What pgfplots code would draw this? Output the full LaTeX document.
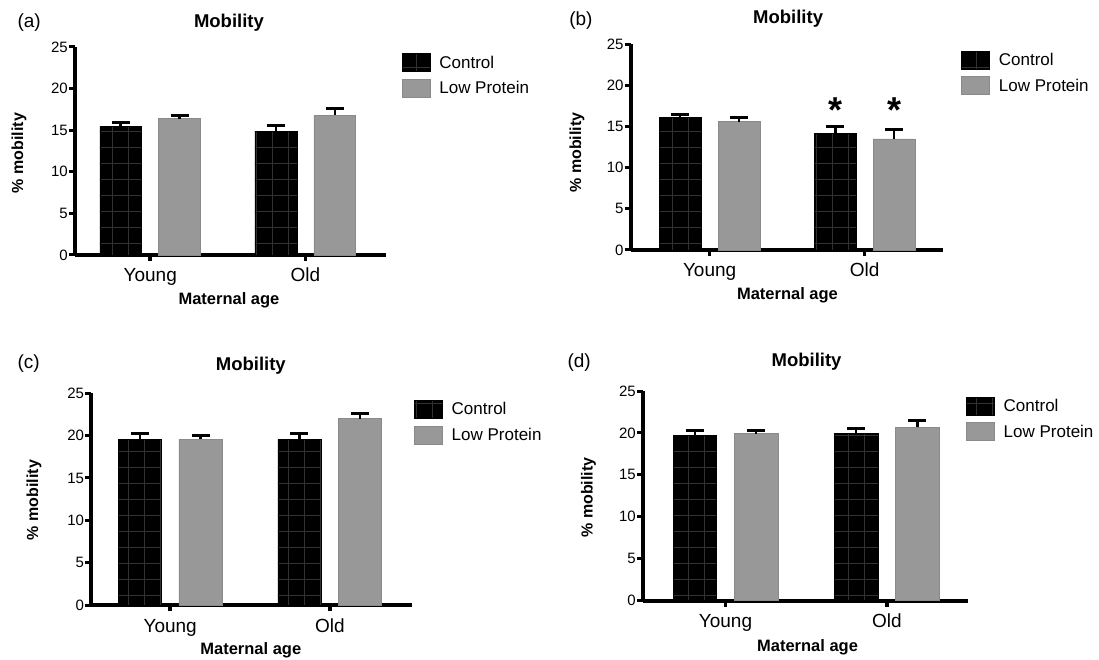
\documentclass[border=0pt]{standalone}
\usepackage{fontspec}
\setmainfont{Liberation Sans}
\usepackage{pgfplots}
\pgfplotsset{compat=1.18}
\usepackage{pgfplotstable}
\usetikzlibrary{patterns.meta}
\definecolor{lpgray}{RGB}{152,152,152}
\definecolor{lpedge}{RGB}{138,138,138}
\definecolor{gridln}{RGB}{50,50,50}

% panel (a)
\pgfplotstableread{
x y e
0 15.5 0.4
1 14.9 0.7
}\actrl
\pgfplotstableread{
x y e
0 16.4 0.4
1 16.8 0.8
}\alp
% panel (b)
\pgfplotstableread{
x y e
0 16.1 0.4
1 14.2 0.8
}\bctrl
\pgfplotstableread{
x y e
0 15.6 0.5
1 13.5 1.1
}\blp
% panel (c)
\pgfplotstableread{
x y e
0 19.6 0.7
1 19.6 0.7
}\cctrl
\pgfplotstableread{
x y e
0 19.6 0.4
1 22.0 0.6
}\clp
% panel (d)
\pgfplotstableread{
x y e
0 19.7 0.6
1 19.9 0.6
}\dctrl
\pgfplotstableread{
x y e
0 19.9 0.4
1 20.7 0.8
}\dlp

\pgfplotsset{
  boxlegend/.style={legend image code/.code={\draw[##1] (0pt,-9pt) rectangle (28pt,9pt);}},
  mob/.style={
    scale only axis, anchor=south west, clip=false,
    ybar, bar width=0.27,
    ymin=0, ymax=25, ytick={0,5,...,25},
    xtick={0,1}, xticklabels={Young,Old},
    axis x line=bottom, axis y line=left,
    tick align=outside, major tick length=6pt,
    /pgf/number format/assume math mode=true,
    yticklabel style={font=\fontsize{15}{15}\selectfont, inner sep=1pt},
    xticklabel style={font=\fontsize{19}{19}\selectfont, anchor=base, yshift=-21pt},
    title=Mobility, xlabel={Maternal age}, ylabel={\% mobility},
    title style={font=\bfseries\fontsize{18.5}{20}\selectfont, anchor=base, yshift=-6pt},
    xlabel style={font=\bfseries\fontsize{16.5}{18}\selectfont, anchor=base},
    ylabel style={font=\bfseries\fontsize{16}{18}\selectfont, anchor=center},
    legend style={draw=none, fill=none, anchor=north west,
      font=\fontsize{17}{17}\selectfont, inner sep=0pt,
      column sep=9pt, row sep=7pt, nodes={inner sep=0pt}},
    legend cell align=left,
    every axis plot post/.append style={boxlegend},
  },
  errb/.style={
    error bars/y dir=plus, error bars/y explicit,
    error bars/error bar style={line width=2.6pt, black},
    error bars/error mark options={rotate=90, line width=2.8pt, mark size=9pt, black}},
  ctrl/.style={fill=black, draw=black, line width=0.6pt,
    postaction={pattern={Hatch[angle=0,distance=16pt,line width=0.6pt]}, pattern color=gridln},
    errb},
  lp/.style={fill=lpgray, draw=lpedge, line width=0.6pt, errb},
  thickax/.style={
    axis line style={line width=3.6pt, -},
    y axis line style={line width=4pt},
    xtick style={line width=3.5pt, black},
    ytick style={line width=3pt, black},
  },
}

\begin{document}
\begin{tikzpicture}
\useasboundingbox (0pt,0pt) rectangle (1099pt,659pt);

% ---------- (a) ----------
\begin{axis}[mob, thickax, at={(75pt,404pt)}, width=311pt, height=208pt,
  xmin=-0.485, xmax=1.520,
  title style={at={(axis description cs:0.495,1.096)}},
  xlabel style={at={(axis description cs:0.495,-0.236)}},
  ylabel style={at={(axis description cs:-0.18,0.49)}},
  legend style={at={(axis description cs:1.050,0.970)}}]
\addplot[ctrl, bar shift=-0.19] table[x=x, y=y, y error=e] {\actrl};
\addplot[lp, bar shift=0.19] table[x=x, y=y, y error=e] {\alp};
\legend{Control, Low Protein}
\end{axis}

% ---------- (b) ----------
\begin{axis}[mob, thickax, at={(630.7pt,409pt)}, width=312.3pt, height=205.7pt,
  xmin=-0.509, xmax=1.505,
  title style={at={(axis description cs:0.504,1.099)}},
  xlabel style={at={(axis description cs:0.502,-0.243)}},
  ylabel style={at={(axis description cs:-0.172,0.474)}},
  legend style={at={(axis description cs:1.058,0.969)}}]
\addplot[ctrl, bar shift=-0.19] table[x=x, y=y, y error=e] {\bctrl};
\addplot[lp, bar shift=0.19] table[x=x, y=y, y error=e] {\blp};
\legend{Control, Low Protein}
\node[font=\bfseries\fontsize{36}{36}\selectfont, anchor=base] at (axis cs:0.81,15.5) {*};
\node[font=\bfseries\fontsize{36}{36}\selectfont, anchor=base] at (axis cs:1.19,15.5) {*};
\end{axis}

% ---------- (c) ----------
\begin{axis}[mob, thickax, at={(91.2pt,54pt)}, width=321.1pt, height=211.7pt,
  xmin=-0.495, xmax=1.517,
  title style={at={(axis description cs:0.497,1.110)}},
  xlabel style={at={(axis description cs:0.497,-0.236)}},
  ylabel style={at={(axis description cs:-0.178,0.496)}},
  legend style={at={(axis description cs:1.005,0.968)}}]
\addplot[ctrl, bar shift=-0.19] table[x=x, y=y, y error=e] {\cctrl};
\addplot[lp, bar shift=0.19] table[x=x, y=y, y error=e] {\clp};
\legend{Control, Low Protein}
\end{axis}

% ---------- (d) ----------
\begin{axis}[mob, thickax, at={(643pt,58.3pt)}, width=324.5pt, height=209.7pt,
  xmin=-0.511, xmax=1.500,
  title style={at={(axis description cs:0.504,1.116)}},
  xlabel style={at={(axis description cs:0.507,-0.244)}},
  ylabel style={at={(axis description cs:-0.168,0.492)}},
  legend style={at={(axis description cs:0.995,0.973)}}]
\addplot[ctrl, bar shift=-0.19] table[x=x, y=y, y error=e] {\dctrl};
\addplot[lp, bar shift=0.19] table[x=x, y=y, y error=e] {\dlp};
\legend{Control, Low Protein}
\end{axis}

% panel letters
\node[font=\fontsize{19}{19}\selectfont, anchor=base west] at (14pt,631pt) {(a)};
\node[font=\fontsize{19}{19}\selectfont, anchor=base west] at (565.8pt,633pt) {(b)};
\node[font=\fontsize{19}{19}\selectfont, anchor=base west] at (14pt,290pt) {(c)};
\node[font=\fontsize{19}{19}\selectfont, anchor=base west] at (564pt,291pt) {(d)};
\end{tikzpicture}
\end{document}
